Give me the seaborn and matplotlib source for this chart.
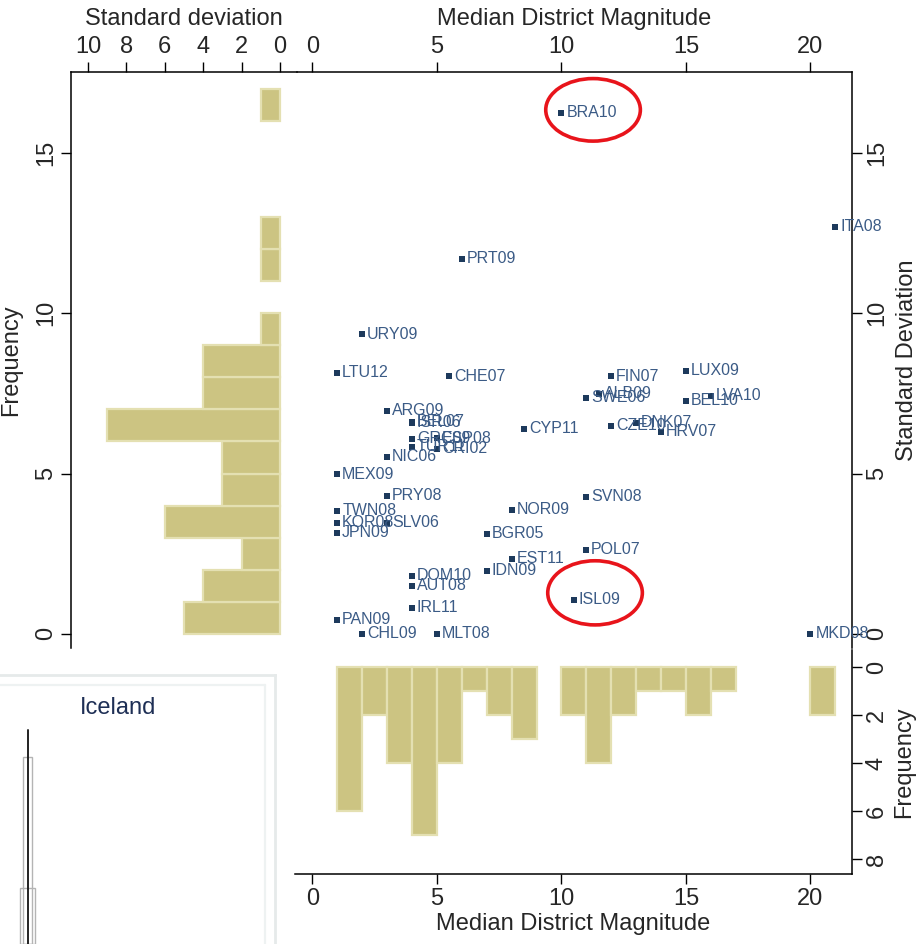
import numpy as np
import pandas as pd
import matplotlib
matplotlib.use("Agg")
import matplotlib.pyplot as plt
from matplotlib.patches import Ellipse
import seaborn as sns

# Election studies: median district magnitude and its standard deviation
countries = ["BRA10", "ITA08", "PRT09", "URY09", "LTU12", "CHE07", "FIN07", "LUX09",
             "ALB09", "SWE06", "LVA10", "BEL10", "ARG09", "BEL07", "ISR06", "CYP11",
             "CZE10", "DNK07", "HRV07", "GRC09", "ESP08", "TUR11", "CRI02", "NIC06",
             "MEX09", "PRY08", "SVN08", "TWN08", "NOR09", "KOR08", "SLV06", "JPN09",
             "BGR05", "POL07", "EST11", "IDN09", "DOM10", "AUT08", "ISL09", "IRL11",
             "PAN09", "CHL09", "MLT08", "MKD08"]
magnitude = [10, 21, 6, 2, 1, 5.5, 12, 15,
             11.5, 11, 16, 15, 3, 4, 4, 8.5,
             12, 13, 14, 4, 5, 4, 5, 3,
             1, 3, 11, 1, 8, 1, 3, 1,
             7, 11, 8, 7, 4, 4, 10.5, 4,
             1, 2, 5, 20]
std_dev = [16.25, 12.69, 11.69, 9.35, 8.14, 8.04, 8.04, 8.2,
           7.48, 7.36, 7.42, 7.27, 6.95, 6.62, 6.58, 6.39,
           6.49, 6.58, 6.3, 6.08, 6.1, 5.83, 5.77, 5.52,
           4.98, 4.3, 4.27, 3.84, 3.87, 3.46, 3.46, 3.15,
           3.12, 2.62, 2.34, 1.97, 1.81, 1.5, 1.06, 0.81,
           0.44, 0.0, 0.0, 0.0]

# Highlighted cases: ellipse centre, width, height (data units)
highlight_center = [(11.27, 16.34), (11.35, 1.28)]
highlight_size = [(3.8, 1.95), (3.8, 2.0)]

# Inset fragment for Iceland
iceland_bar_x = [3.0, 3.0]
iceland_bar_width = [1.65, 1.0]
iceland_bar_height = [2.1, 6.95]
iceland_line_x = 3.02
iceland_line_top = 7.96

df = pd.DataFrame({"country": countries, "mdm": magnitude, "sd": std_dev})

sns.set_style("ticks")
plt.rcParams["font.family"] = ["Liberation Sans", "DejaVu Sans"]

BAR = "#ccc482"
BAR_EDGE = "#e4e0b2"
PT = "#1d3a5c"
LAB = "#3b5b86"
FS = 17

W, H = 917, 944
fig = plt.figure(figsize=(W / 100, H / 100), dpi=100)


def frame(l, t, r, b):
    return [l / W, 1 - b / H, (r - l) / W, (b - t) / H]


ax_main = fig.add_axes(frame(297, 72, 852, 648))
ax_left = fig.add_axes(frame(71, 72, 297, 648))
ax_bot = fig.add_axes(frame(295, 650, 852, 874))
ax_ice = fig.add_axes(frame(0, 675, 275, 944))

xlim_main = (-0.62, 21.67)
ylim_main = (-0.44, 17.52)

# --- scatter ---
sns.scatterplot(data=df, x="mdm", y="sd", marker="s", s=16, color=PT,
                linewidth=0, ax=ax_main, zorder=3)
for name, x, y in zip(countries, magnitude, std_dev):
    ax_main.annotate(name, (x, y), xytext=(3.5, 0), textcoords="offset points",
                     va="center", ha="left", fontsize=11.5, color=LAB,
                     annotation_clip=False)
for (cx, cy), (w, h) in zip(highlight_center, highlight_size):
    ax_main.add_patch(Ellipse((cx, cy), w, h, fill=False, edgecolor="#e8141b",
                              linewidth=2.6, zorder=4, clip_on=False))
ax_main.set_xlim(*xlim_main)
ax_main.set_ylim(*ylim_main)
ax_main.xaxis.tick_top()
ax_main.xaxis.set_label_position("top")
ax_main.yaxis.tick_right()
ax_main.yaxis.set_label_position("right")
ax_main.set_xticks([0, 5, 10, 15, 20])
ax_main.set_yticks([0, 5, 10, 15])
ax_main.set_xlabel("Median District Magnitude", fontsize=FS, labelpad=8)
ax_main.set_ylabel("Standard Deviation", fontsize=FS, labelpad=6)
for s in ["left", "bottom"]:
    ax_main.spines[s].set_visible(False)

# --- left histogram of standard deviation ---
sns.histplot(y=df["sd"], bins=np.arange(0, 18, 1), ax=ax_left, color=BAR,
             edgecolor=BAR_EDGE, linewidth=1.6, alpha=1)
for p in list(ax_left.patches):
    if p.get_width() == 0:
        p.remove()
ax_left.set_xlim(10.89, -0.885)
ax_left.set_ylim(*ylim_main)
ax_left.xaxis.tick_top()
ax_left.xaxis.set_label_position("top")
ax_left.set_xticks([10, 8, 6, 4, 2, 0])
ax_left.set_yticks([0, 5, 10, 15])
ax_left.set_xlabel("Standard deviation", fontsize=FS, labelpad=8)
ax_left.set_ylabel("Frequency", fontsize=FS, labelpad=9)
for s in ["right", "bottom"]:
    ax_left.spines[s].set_visible(False)

# --- bottom histogram of district magnitude ---
sns.histplot(x=df["mdm"], bins=np.arange(1, 22, 1), ax=ax_bot, color=BAR,
             edgecolor=BAR_EDGE, linewidth=1.6, alpha=1)
for p in list(ax_bot.patches):
    if p.get_height() == 0:
        p.remove()
ax_bot.set_xlim(-0.70, 21.67)
ax_bot.set_ylim(8.625, -0.71)
ax_bot.yaxis.tick_right()
ax_bot.yaxis.set_label_position("right")
ax_bot.set_xticks([0, 5, 10, 15, 20])
ax_bot.set_yticks([0, 2, 4, 6, 8])
ax_bot.set_xlabel("Median District Magnitude", fontsize=FS, labelpad=2)
ax_bot.set_ylabel("Frequency", fontsize=FS, labelpad=4)
for s in ["left", "top"]:
    ax_bot.spines[s].set_visible(False)

for ax in (ax_main, ax_left, ax_bot):
    ax.tick_params(axis="both", which="major", length=7, width=1, color="black",
                   labelsize=FS, pad=3, direction="out")
    for sp in ax.spines.values():
        sp.set_color("black")
        sp.set_linewidth(1.1)
    for lab in ax.get_yticklabels():
        lab.set_rotation(90)
        lab.set_va("center")
    ax.set_facecolor("none")

# --- Iceland inset fragment ---
ax_ice.bar(iceland_bar_x, iceland_bar_height, width=iceland_bar_width,
           facecolor="none", edgecolor="#b4b4b4", linewidth=1.0)
ax_ice.plot([iceland_line_x, iceland_line_x], [0, iceland_line_top],
            color="#222222", linewidth=1.4)
ax_ice.set_xlim(0, 30)
ax_ice.set_ylim(0, 10)
ax_ice.set_xticks([])
ax_ice.set_yticks([])
for s in ["left", "bottom"]:
    ax_ice.spines[s].set_visible(False)
for s in ["top", "right"]:
    ax_ice.spines[s].set_color("#e6eaea")
    ax_ice.spines[s].set_linewidth(2.0)
ax_ice.plot([0, 0.964], [0.963, 0.963], transform=ax_ice.transAxes,
            color="#eef2f2", linewidth=1.6, clip_on=False)
ax_ice.plot([0.964, 0.964], [0, 0.963], transform=ax_ice.transAxes,
            color="#eef2f2", linewidth=1.6, clip_on=False)
ax_ice.text(0.43, 0.877, "Iceland", transform=ax_ice.transAxes, ha="center",
            va="center", fontsize=FS, color="#1e2f55")

fig.savefig("out.png", dpi=100)
